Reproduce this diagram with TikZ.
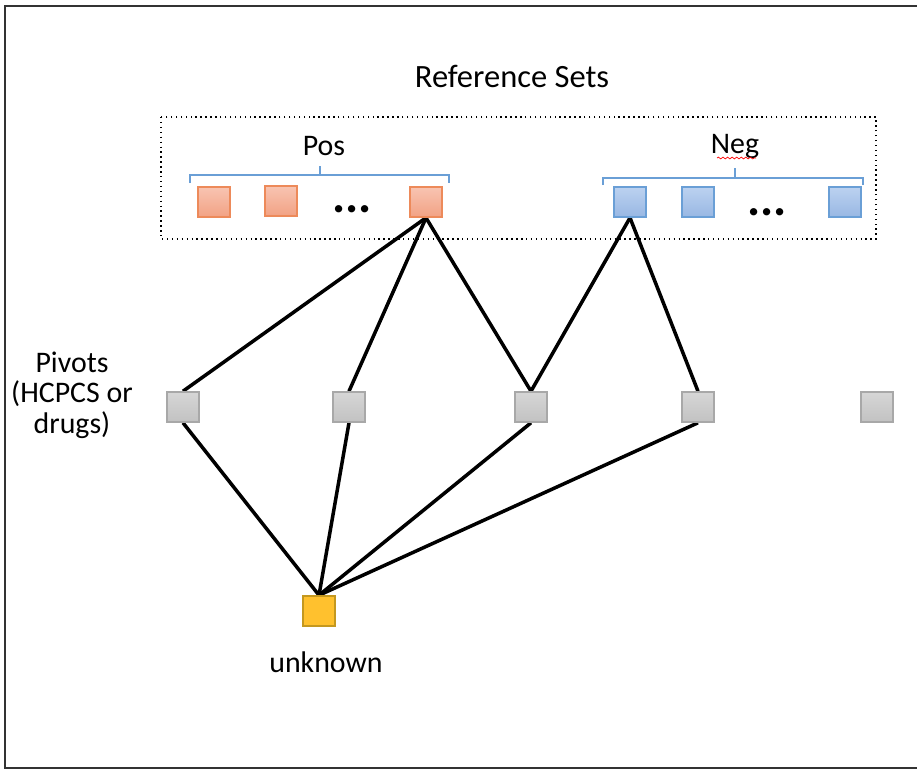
\documentclass[tikz,border=0pt]{standalone}
\usepackage{fontspec}
\setmainfont{Carlito}
\usetikzlibrary{backgrounds,decorations.pathmorphing}

\definecolor{postop}{HTML}{F8C4B2}
\definecolor{posbot}{HTML}{F2A284}
\definecolor{posline}{HTML}{ED8A5A}
\definecolor{negtop}{HTML}{BCD2F0}
\definecolor{negbot}{HTML}{98B7E3}
\definecolor{negline}{HTML}{6A9FD6}
\definecolor{pivtop}{HTML}{D6D6D6}
\definecolor{pivbot}{HTML}{C2C2C2}
\definecolor{pivline}{HTML}{A8A8A8}
\definecolor{unkfill}{HTML}{FFC12E}
\definecolor{unkline}{HTML}{C4981F}
\definecolor{braceblue}{HTML}{6A9FD6}

\tikzset{
  box/.style={draw, line width=0.9pt, minimum width=0.64cm, minimum height=0.6cm, inner sep=0pt},
  posbox/.style={box, draw=posline, top color=postop, bottom color=posbot},
  negbox/.style={box, draw=negline, top color=negtop, bottom color=negbot},
  pivot/.style={box, draw=pivline, top color=pivtop, bottom color=pivbot},
  unk/.style={box, draw=unkline, fill=unkfill},
  edge/.style={line width=2pt, black},
  brace/.style={draw=braceblue, line width=0.7pt},
  lbl/.style={font=\fontsize{17}{17.3}\selectfont},
  dotsmark/.style={font=\fontsize{28}{28}\bfseries}
}

\begin{document}
\begin{tikzpicture}[x=0.02cm, y=-0.02cm]
        \useasboundingbox (0,0) rectangle (917,771);
        \draw [line width=1.1pt, black!80] (5,6) rectangle (940,768);

        \node [font=\fontsize{18.5}{18.5}\selectfont] (title) at (512,76) {Reference Sets};
        \draw [dotted, line width=0.8pt] (161,117) rectangle (876,239);

        % positive / negative references
        \draw (214,202) node[posbox] (A1) {};
        \draw (281,201) node[posbox] (A2) {};
        \draw (426,202) node[posbox] (A3) {};
        \node [dotsmark] (adots) at (352,209) {...};
        \draw (630,202) node[negbox] (B1) {};
        \draw (698,202) node[negbox] (B2) {};
        \draw (845,202) node[negbox] (B3) {};
        \node [dotsmark] (bdots) at (767,212) {...};

        \node [lbl] (pos) at (324,146) {Pos};
        \node [lbl] (neg) at (735,146) {Neg};
        \draw [red, decorate, decoration={snake, amplitude=0.5pt, segment length=2.6pt}] (717,158) -- (756,158);
        \draw [brace] (190,183) -- (190,175) -- (449,175) -- (449,183);
        \draw [brace] (320,175) -- (320,166);
        \draw [brace] (603,185) -- (603,178) -- (863,178) -- (863,185);
        \draw [brace] (735,178) -- (735,168);

        % pivots and the unknown
        \draw (183,407) node[pivot] (P1) {};
        \draw (349,407) node[pivot] (P2) {};
        \draw (531,407) node[pivot] (P3) {};
        \draw (698,407) node[pivot] (P4) {};
        \draw (877,407) node[pivot] (P5) {};
        \draw (319,611) node[unk] (U) {};
        \node [lbl, align=center] (pivlbl) at (72,395) {Pivots\\(HCPCS or\\drugs)};
        \node [lbl] (unklbl) at (326,662) {unknown};

        \begin{scope}[on background layer]
        \draw [edge] (A3.south) to (P1.north);
        \draw [edge] (A3.south) to (P2.north);
        \draw [edge] (A3.south) to (P3.north);
        \draw [edge] (B1.south) to (P3.north);
        \draw [edge] (B1.south) to (P4.north);
        \draw [edge] (P1.south) to (U.north);
        \draw [edge] (P2.south) to (U.north);
        \draw [edge] (P3.south) to (U.north);
        \draw [edge] (P4.south) to (U.north);
        \end{scope}

\end{tikzpicture}
\end{document}
